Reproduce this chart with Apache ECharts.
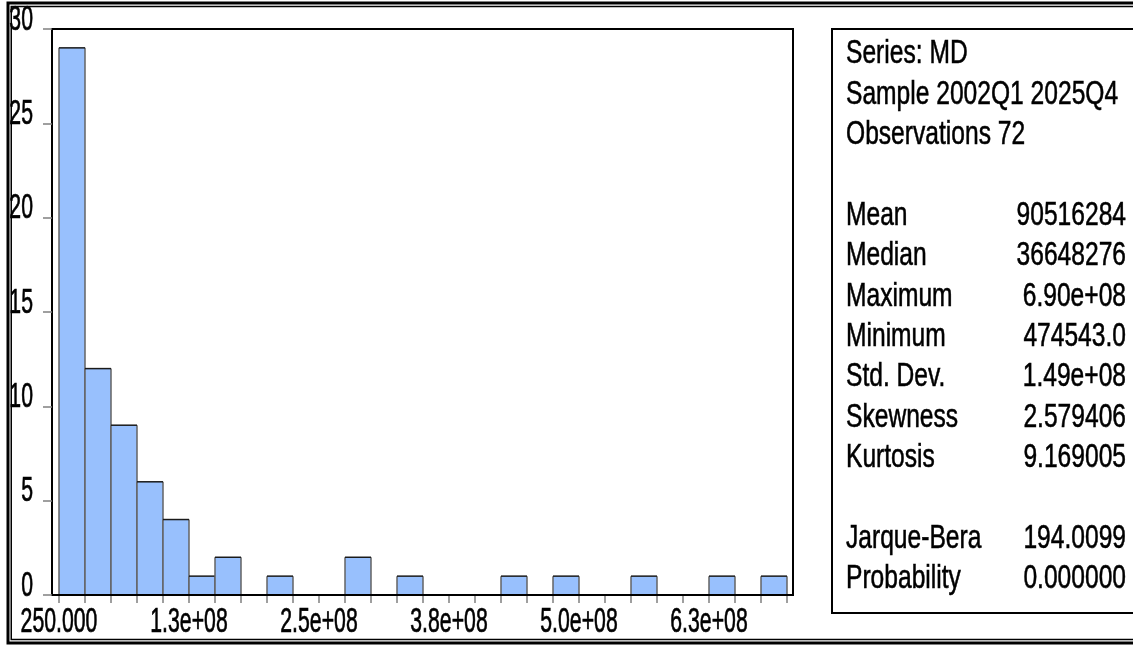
<!DOCTYPE html>
<html>
<head>
<meta charset="utf-8">
<title>MD histogram</title>
<script src="https://cdn.jsdelivr.net/npm/echarts@6/dist/echarts.min.js"></script>
<style>
  html, body { margin: 0; padding: 0; background: #ffffff; }
  #chart { width: 1133px; height: 645px; }
</style>
</head>
<body>
<div id="chart"></div>
<script>
// Histogram bins of MD (lower edge of each bin, in millions) and the count in each bin
const binWidthM = 25;
const binStartsM = [0, 25, 50, 75, 100, 125, 150, 175, 200, 225, 250, 275, 300, 325,
                    350, 375, 400, 425, 450, 475, 500, 525, 550, 575, 600, 625, 650, 675];
const binCounts = [29, 12, 9, 6, 4, 1, 2, 0, 1, 0, 0, 2, 0, 1,
                   0, 0, 0, 1, 0, 1, 0, 0, 1, 0, 0, 1, 0, 1];

// Axis tick labels
const xTickValuesM = [0, 125, 250, 375, 500, 625];
const xTickLabels = ['250.000', '1.3e+08', '2.5e+08', '3.8e+08', '5.0e+08', '6.3e+08'];
const yTickValues = [0, 5, 10, 15, 20, 25, 30];
const yTickLabels = ['0', '5', '10', '15', '20', '25', '30'];

// Descriptive statistics
const headerLines = ['Series: MD', 'Sample 2002Q1 2025Q4', 'Observations 72'];
const statNames = ['Mean', 'Median', 'Maximum', 'Minimum', 'Std. Dev.', 'Skewness', 'Kurtosis'];
const statValues = ['90516284', '36648276', '6.90e+08', '474543.0', '1.49e+08', '2.579406', '9.169005'];
const testNames = ['Jarque-Bera', 'Probability'];
const testValues = ['194.0099', '0.000000'];

const M = 1e6;
const FONT = '"Liberation Sans", Arial, sans-serif';
const BAR_FILL = '#98c0fd';
const BAR_SIDE = '#636363';
const BAR_TOP = '#1a1a1a';
const TICK = '#808080';

const barData = binStartsM.map((s, i) => [s * M, (s + binWidthM) * M, binCounts[i]]);

// Narrow, tall axis lettering
function axisText(x, y, text, align) {
  return {
    type: 'text', x: x, y: y, scaleX: 0.85, scaleY: 1.4,
    style: { text: text, font: '25px ' + FONT, fill: '#000', stroke: '#000', lineWidth: 0.5,
             align: align, verticalAlign: 'middle' }
  };
}

// Statistics panel text
const statGraphics = [];
const rowY = i => 54 + i * 40.4;
function statText(x, y, text, align) {
  statGraphics.push({
    type: 'text', x: x, y: y, scaleX: 0.82, scaleY: 1.12,
    style: { text: text, font: '30px ' + FONT, fill: '#000', stroke: '#000', lineWidth: 0.5,
             align: align, verticalAlign: 'middle' },
    z: 20
  });
}
headerLines.forEach((t, i) => statText(846, rowY(i), t, 'left'));
statNames.forEach((t, i) => {
  statText(846, rowY(4 + i), t, 'left');
  statText(1126, rowY(4 + i), statValues[i], 'right');
});
testNames.forEach((t, i) => {
  statText(846, rowY(12 + i), t, 'left');
  statText(1126, rowY(12 + i), testValues[i], 'right');
});

const chart = echarts.init(document.getElementById('chart'), null, { renderer: 'canvas' });

chart.setOption({
  animation: false,
  backgroundColor: '#ffffff',
  grid: [
    { left: 52, top: 29, width: 741, height: 566, show: true, borderColor: '#000', borderWidth: 2,
      backgroundColor: 'transparent' },
    { left: 59, top: 29, width: 728, height: 566 }
  ],
  xAxis: [
    { gridIndex: 0, type: 'value', min: 0, max: 1, z: 10,
      axisLine: { show: true, lineStyle: { color: '#000', width: 2 } },
      axisTick: { show: false }, axisLabel: { show: false }, splitLine: { show: false } },
    { gridIndex: 1, type: 'value', min: 0, max: 700 * M, interval: binWidthM * M,
      axisLine: { show: false },
      axisTick: { show: true, length: 8, lineStyle: { color: TICK, width: 1.5 } },
      axisLabel: { show: false }, splitLine: { show: false } }
  ],
  yAxis: [
    { gridIndex: 0, type: 'value', min: 0, max: 30, interval: 5, z: 10,
      axisLine: { show: true, lineStyle: { color: '#000', width: 2 } },
      axisTick: { show: true, length: 9, lineStyle: { color: TICK, width: 1.5 } },
      axisLabel: { show: false }, splitLine: { show: false } },
    { gridIndex: 1, type: 'value', min: 0, max: 30, show: false }
  ],
  series: [
    {
      type: 'custom', name: 'MD', xAxisIndex: 1, yAxisIndex: 1, z: 2,
      encode: { x: [0, 1], y: 2 },
      data: barData,
      renderItem: function (params, api) {
        const count = api.value(2);
        if (!count) return null;
        const a = api.coord([api.value(0), count]);
        const b = api.coord([api.value(1), 0]);
        const x0 = a[0], x1 = b[0], yt = a[1], yb = b[1];
        return {
          type: 'group',
          children: [
            { type: 'rect', shape: { x: x0, y: yt, width: x1 - x0, height: yb - yt },
              style: { fill: BAR_FILL } },
            { type: 'line', shape: { x1: x0, y1: yt, x2: x0, y2: yb },
              style: { stroke: BAR_SIDE, lineWidth: 1.5 } },
            { type: 'line', shape: { x1: x1, y1: yt, x2: x1, y2: yb },
              style: { stroke: BAR_SIDE, lineWidth: 1.5 } },
            { type: 'line', shape: { x1: x0, y1: yt, x2: x1, y2: yt },
              style: { stroke: BAR_TOP, lineWidth: 1.5 } }
          ]
        };
      }
    },
    {
      // x tick labels, placed by the bin axis
      type: 'custom', xAxisIndex: 1, yAxisIndex: 1, z: 5, silent: true,
      data: xTickValuesM.map(v => [v * M, 0]),
      renderItem: function (params, api) {
        const p = api.coord([api.value(0), 0]);
        return axisText(p[0], p[1] + 27, xTickLabels[params.dataIndex], 'center');
      }
    },
    {
      // y tick labels, placed by the count axis
      type: 'custom', xAxisIndex: 0, yAxisIndex: 0, z: 5, silent: true,
      data: yTickValues.map(v => [0, v]),
      renderItem: function (params, api) {
        const p = api.coord([0, api.value(1)]);
        return axisText(p[0] - 19, p[1] - 9, yTickLabels[params.dataIndex], 'right');
      }
    }
  ],
  graphic: [
    // double outer frame
    { type: 'rect', shape: { x: 8, y: 3, width: 1300, height: 640 },
      style: { fill: 'none', stroke: '#000', lineWidth: 3 }, z: 30 },
    { type: 'rect', shape: { x: 11.25, y: 6.5, width: 1300, height: 633 },
      style: { fill: 'none', stroke: '#000', lineWidth: 1.5 }, z: 30 },
    // statistics panel box
    { type: 'rect', shape: { x: 832, y: 29, width: 400, height: 584 },
      style: { fill: 'none', stroke: '#000', lineWidth: 2 }, z: 20 }
  ].concat(statGraphics)
});
</script>
</body>
</html>
